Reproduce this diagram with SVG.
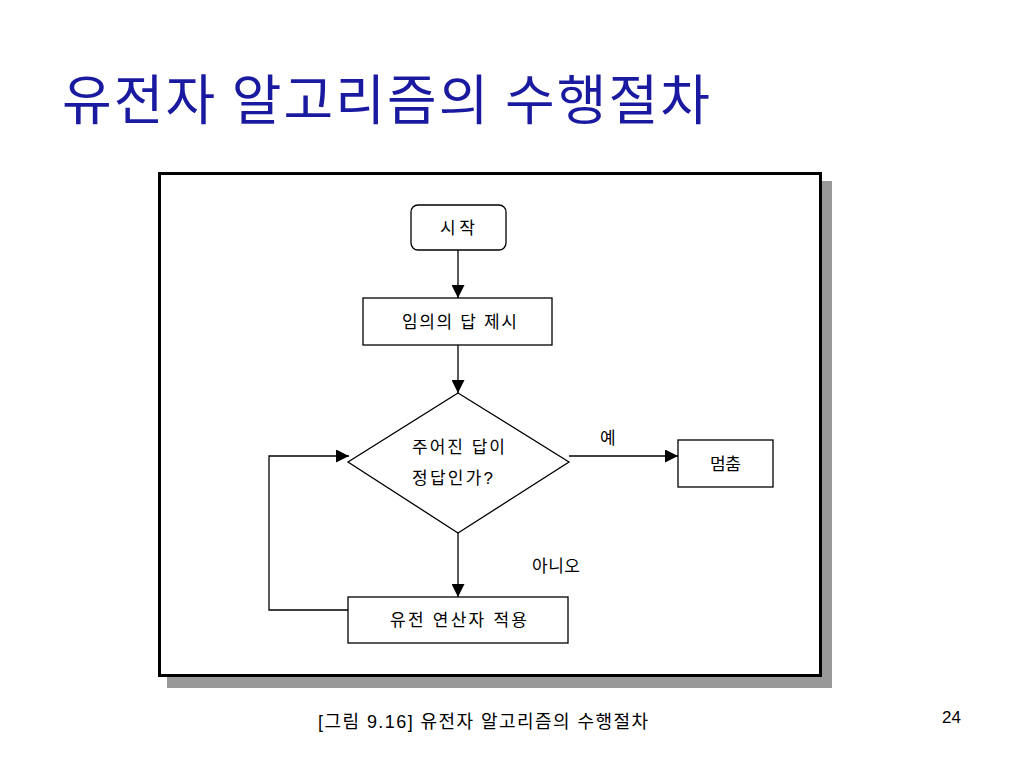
<svg xmlns="http://www.w3.org/2000/svg" width="1024" height="768" viewBox="0 0 1024 768">
<defs>
<style>
.t{font-family:"Liberation Sans","Noto Sans CJK KR",sans-serif;fill:#000}
.n{fill:#fff;stroke:#000;stroke-width:1.3}
.c{fill:none;stroke:#000;stroke-width:1.3}
</style>
<marker id="ah" viewBox="0 0 10 10" refX="10" refY="5" markerWidth="13" markerHeight="13" markerUnits="userSpaceOnUse" orient="auto">
<path d="M0,0 L10,5 L0,10 z" fill="#000"/>
</marker>
</defs>
<rect width="1024" height="768" fill="#fff"/>
<text x="62" y="120" font-family="'Noto Sans CJK KR',sans-serif" font-size="54" fill="#1a1aa0" textLength="648" lengthAdjust="spacing">유전자 알고리즘의 수행절차</text>
<rect x="167" y="181" width="665" height="507" fill="#999"/>
<rect x="159.5" y="173.5" width="661" height="502" fill="#fff" stroke="#000" stroke-width="3"/>
<g id="connectors">
<line class="c" x1="458" y1="250" x2="458" y2="298" marker-end="url(#ah)"/>
<line class="c" x1="458" y1="345" x2="458" y2="393" marker-end="url(#ah)"/>
<line class="c" x1="569" y1="456" x2="678" y2="456" marker-end="url(#ah)"/>
<line class="c" x1="458" y1="533" x2="458" y2="597" marker-end="url(#ah)"/>
<polyline class="c" points="348,610 269,610 269,456 349,456" marker-end="url(#ah)"/>
<text class="t" x="600" y="444" font-size="17">예</text>
<text class="t" x="532" y="572" font-size="17" textLength="48" lengthAdjust="spacing">아니오</text>
</g>
<g id="start">
<rect class="n" x="411" y="205" width="95" height="45" rx="7"/>
<text class="t" x="440" y="234" font-size="17" textLength="35" lengthAdjust="spacing">시작</text>
</g>
<g id="propose">
<rect class="n" x="363" y="298" width="189" height="47"/>
<text class="t" x="402" y="328" font-size="17" textLength="115" lengthAdjust="spacing">임의의 답 제시</text>
</g>
<g id="decision">
<polygon class="n" points="458,393 569,462 458,533 348,462"/>
<text class="t" x="412" y="453" font-size="17" textLength="93" lengthAdjust="spacing">주어진 답이</text>
<text class="t" x="412" y="484" font-size="17" textLength="81" lengthAdjust="spacing">정답인가?</text>
</g>
<g id="stop">
<rect class="n" x="678" y="440" width="95" height="47"/>
<text class="t" x="710" y="470" font-size="17" textLength="31" lengthAdjust="spacing">멈춤</text>
</g>
<g id="apply">
<rect class="n" x="348" y="597" width="220" height="46"/>
<text class="t" x="390" y="626" font-size="17" textLength="137" lengthAdjust="spacing">유전 연산자 적용</text>
</g>
<text class="t" x="318" y="728" font-size="18" textLength="330" lengthAdjust="spacing">[그림 9.16] 유전자 알고리즘의 수행절차</text>
<text class="t" x="942" y="723" font-size="17">24</text>
</svg>
